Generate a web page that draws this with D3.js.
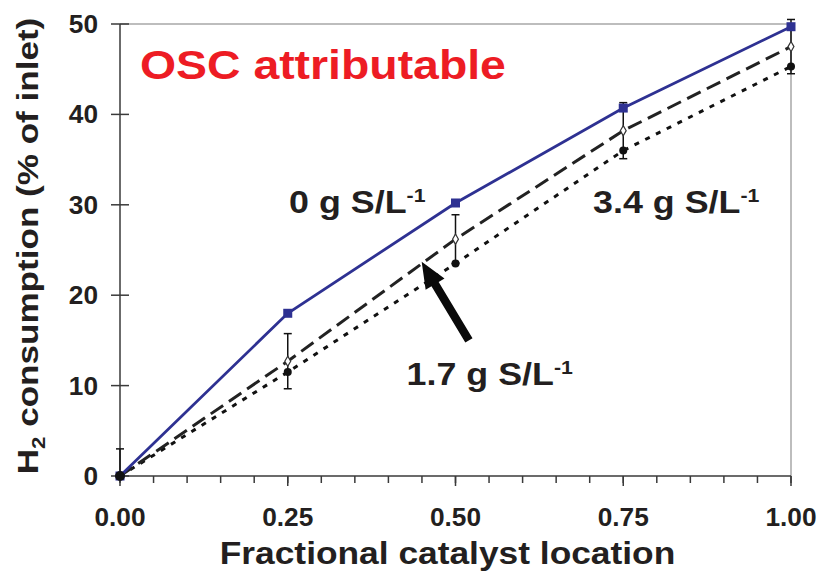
<!DOCTYPE html>
<html>
<head>
<meta charset="utf-8">
<script src="https://cdn.jsdelivr.net/npm/d3@7"></script>
<style>
  body { margin: 0; background: #fff; }
  text { font-family: "Liberation Sans", Arial, sans-serif; font-weight: bold; }
</style>
</head>
<body>
<svg id="chart" width="819" height="586"></svg>
<script>
// fractional catalyst location
const locations = [0, 0.25, 0.5, 0.75, 1.0];
// H2 consumption, % of inlet
const sulfur0   = [0, 18.0, 30.2, 40.7, 49.7];
const sulfur17  = [0, 12.7, 26.2, 38.2, 47.5];
const sulfur17Err = [3.0, 3.05, 2.7, 3.1, 3.0];
const sulfur34  = [0, 11.5, 23.5, 36.0, 45.3];

const xTicks = [0, 0.25, 0.5, 0.75, 1.0];
const xMinorTicks = d3.range(0, 1.0001, 0.05);
const yTicks = [0, 10, 20, 30, 40, 50];

// annotation positions, in data units
const labels = [
  { text: "0 g S/L", x: 0.252, y: 29.1 },
  { text: "3.4 g S/L", x: 0.705, y: 29.05 },
  { text: "1.7 g S/L", x: 0.427, y: 10.07 }
];
const arrowFrom = { x: 0.52, y: 15.0 };
const arrowTo   = { x: 0.4496, y: 23.7 };

const svg = d3.select("#chart");
const m = { top: 24, right: 28, bottom: 110, left: 120 };
const width = +svg.attr("width");
const height = +svg.attr("height");

const x = d3.scaleLinear().domain([0, 1]).range([m.left, width - m.right]);
const y = d3.scaleLinear().domain([0, 50]).range([height - m.bottom, m.top]);

const axisColor = "#3a3a3a";
const textColor = "#231f20";

// frame top / right
svg.append("path")
  .attr("d", `M${x(0)},${y(50)}H${x(1)}V${y(0)}`)
  .attr("fill", "none")
  .attr("stroke", "#a8a8a8")
  .attr("stroke-width", 1.5);

// x axis
const xAxis = svg.append("g").attr("transform", `translate(0,${y(0)})`);
xAxis.append("line")
  .attr("x1", x(0)).attr("x2", x(1))
  .attr("stroke", axisColor).attr("stroke-width", 1.5);
xAxis.selectAll(".minor")
  .data(xMinorTicks)
  .enter().append("line")
    .attr("x1", d => x(d)).attr("x2", d => x(d))
    .attr("y1", 0).attr("y2", 7)
    .attr("stroke", axisColor).attr("stroke-width", 1.5);
xAxis.selectAll(".major")
  .data(xTicks)
  .enter().append("line")
    .attr("x1", d => x(d)).attr("x2", d => x(d))
    .attr("y1", 0).attr("y2", 10)
    .attr("stroke", axisColor).attr("stroke-width", 1.5);
xAxis.selectAll(".lbl")
  .data(xTicks)
  .enter().append("text")
    .attr("transform", d => `translate(${x(d)},50) scale(1.05,1)`)
    .attr("text-anchor", "middle")
    .attr("font-size", 25)
    .attr("fill", textColor)
    .text(d3.format(".2f"));

// y axis
const yAxis = svg.append("g").attr("transform", `translate(${x(0)},0)`);
yAxis.append("line")
  .attr("y1", y(0)).attr("y2", y(50))
  .attr("stroke", axisColor).attr("stroke-width", 1.5);
yAxis.selectAll(".tk")
  .data(yTicks)
  .enter().append("line")
    .attr("x1", -9).attr("x2", 9)
    .attr("y1", d => y(d)).attr("y2", d => y(d))
    .attr("stroke", axisColor).attr("stroke-width", 1.5);
yAxis.selectAll(".lbl")
  .data(yTicks)
  .enter().append("text")
    .attr("transform", d => `translate(-22,${y(d) + 9}) scale(1.05,1)`)
    .attr("text-anchor", "end")
    .attr("font-size", 25)
    .attr("fill", textColor)
    .text(d => d);

// axis titles
svg.append("text")
  .attr("transform", `translate(${(x(0) + x(1)) / 2 - 8},564) scale(1.14,1)`)
  .attr("text-anchor", "middle")
  .attr("font-size", 31)
  .attr("fill", textColor)
  .text("Fractional catalyst location");

const yTitle = svg.append("text")
  .attr("transform", `translate(38,246) rotate(-90) scale(1.17,1)`)
  .attr("text-anchor", "middle")
  .attr("font-size", 30)
  .attr("fill", textColor);
yTitle.append("tspan").text("H");
yTitle.append("tspan").attr("font-size", 19).attr("dy", 7).text("2");
yTitle.append("tspan").attr("dy", -7).text(" consumption (% of inlet)");

// plot-area clip (error bars are cut at the axis)
svg.append("clipPath").attr("id", "plot-clip")
  .append("rect")
    .attr("x", x(0) - 10).attr("y", y(50) - 10)
    .attr("width", x(1) - x(0) + 20).attr("height", y(0) - y(50) + 10);

// series
const pts = vals => locations.map((l, i) => ({ x: l, y: vals[i] }));
const line = d3.line().x(d => x(d.x)).y(d => y(d.y));

svg.append("path")
  .datum(pts(sulfur34))
  .attr("d", line)
  .attr("fill", "none")
  .attr("stroke", "#111")
  .attr("stroke-width", 3)
  .attr("stroke-dasharray", "5,7");

svg.append("path")
  .datum(pts(sulfur17))
  .attr("d", line)
  .attr("fill", "none")
  .attr("stroke", "#222")
  .attr("stroke-width", 3)
  .attr("stroke-dasharray", "15,7");

svg.append("path")
  .datum(pts(sulfur0))
  .attr("d", line)
  .attr("fill", "none")
  .attr("stroke", "#2e3192")
  .attr("stroke-width", 2.8);

// error bars on the 1.7 g series
const errs = svg.append("g")
  .attr("clip-path", "url(#plot-clip)")
  .attr("stroke", "#111").attr("stroke-width", 1.5);
locations.forEach((l, i) => {
  const lo = y(sulfur17[i] - sulfur17Err[i]);
  const hi = y(sulfur17[i] + sulfur17Err[i]);
  errs.append("line").attr("x1", x(l)).attr("x2", x(l)).attr("y1", lo).attr("y2", hi);
  errs.append("line").attr("x1", x(l) - 4).attr("x2", x(l) + 4).attr("y1", lo).attr("y2", lo);
  errs.append("line").attr("x1", x(l) - 4).attr("x2", x(l) + 4).attr("y1", hi).attr("y2", hi);
});

// markers
svg.selectAll(".diamond")
  .data(pts(sulfur17))
  .enter().append("path")
    .attr("d", d3.symbol(d3.symbolDiamond, 30))
    .attr("transform", d => `translate(${x(d.x)},${y(d.y)})`)
    .attr("fill", "#fff")
    .attr("stroke", "#333")
    .attr("stroke-width", 1.2);

svg.selectAll(".sq")
  .data(pts(sulfur0))
  .enter().append("rect")
    .attr("x", d => x(d.x) - 4.5)
    .attr("y", d => y(d.y) - 4.5)
    .attr("width", 9).attr("height", 9)
    .attr("fill", "#2e3192");

svg.selectAll(".dot")
  .data(pts(sulfur34))
  .enter().append("circle")
    .attr("cx", d => x(d.x))
    .attr("cy", d => y(d.y))
    .attr("r", (d, i) => i === 0 ? 5 : 4)
    .attr("fill", "#111");

// annotations
svg.append("text")
  .attr("transform", `translate(140,79) scale(1.16,1)`)
  .attr("font-size", 40)
  .attr("fill", "#ed1c24")
  .text("OSC attributable");

labels.forEach(l => {
  const t = svg.append("text")
    .attr("transform", `translate(${x(l.x)},${y(l.y)}) scale(1.12,1)`)
    .attr("font-size", 32)
    .attr("fill", textColor);
  t.append("tspan").text(l.text);
  t.append("tspan").attr("font-size", 19).attr("dy", -11).text("-1");
});

// arrow
const ax0 = x(arrowFrom.x), ay0 = y(arrowFrom.y);
const ax1 = x(arrowTo.x), ay1 = y(arrowTo.y);
const len = Math.hypot(ax1 - ax0, ay1 - ay0);
const ux = (ax1 - ax0) / len, uy = (ay1 - ay0) / len;
const px = -uy, py = ux;
const shaftW = 4.2, headW = 11, headL = 26;
const bx = ax1 - ux * headL, by = ay1 - uy * headL;
const arrowPts = [
  [ax0 + px * shaftW, ay0 + py * shaftW],
  [bx + px * shaftW, by + py * shaftW],
  [bx + px * headW, by + py * headW],
  [ax1, ay1],
  [bx - px * headW, by - py * headW],
  [bx - px * shaftW, by - py * shaftW],
  [ax0 - px * shaftW, ay0 - py * shaftW]
];
svg.append("polygon")
  .attr("points", arrowPts.map(p => p.join(",")).join(" "))
  .attr("fill", "#0a0a0a");
</script>
</body>
</html>
